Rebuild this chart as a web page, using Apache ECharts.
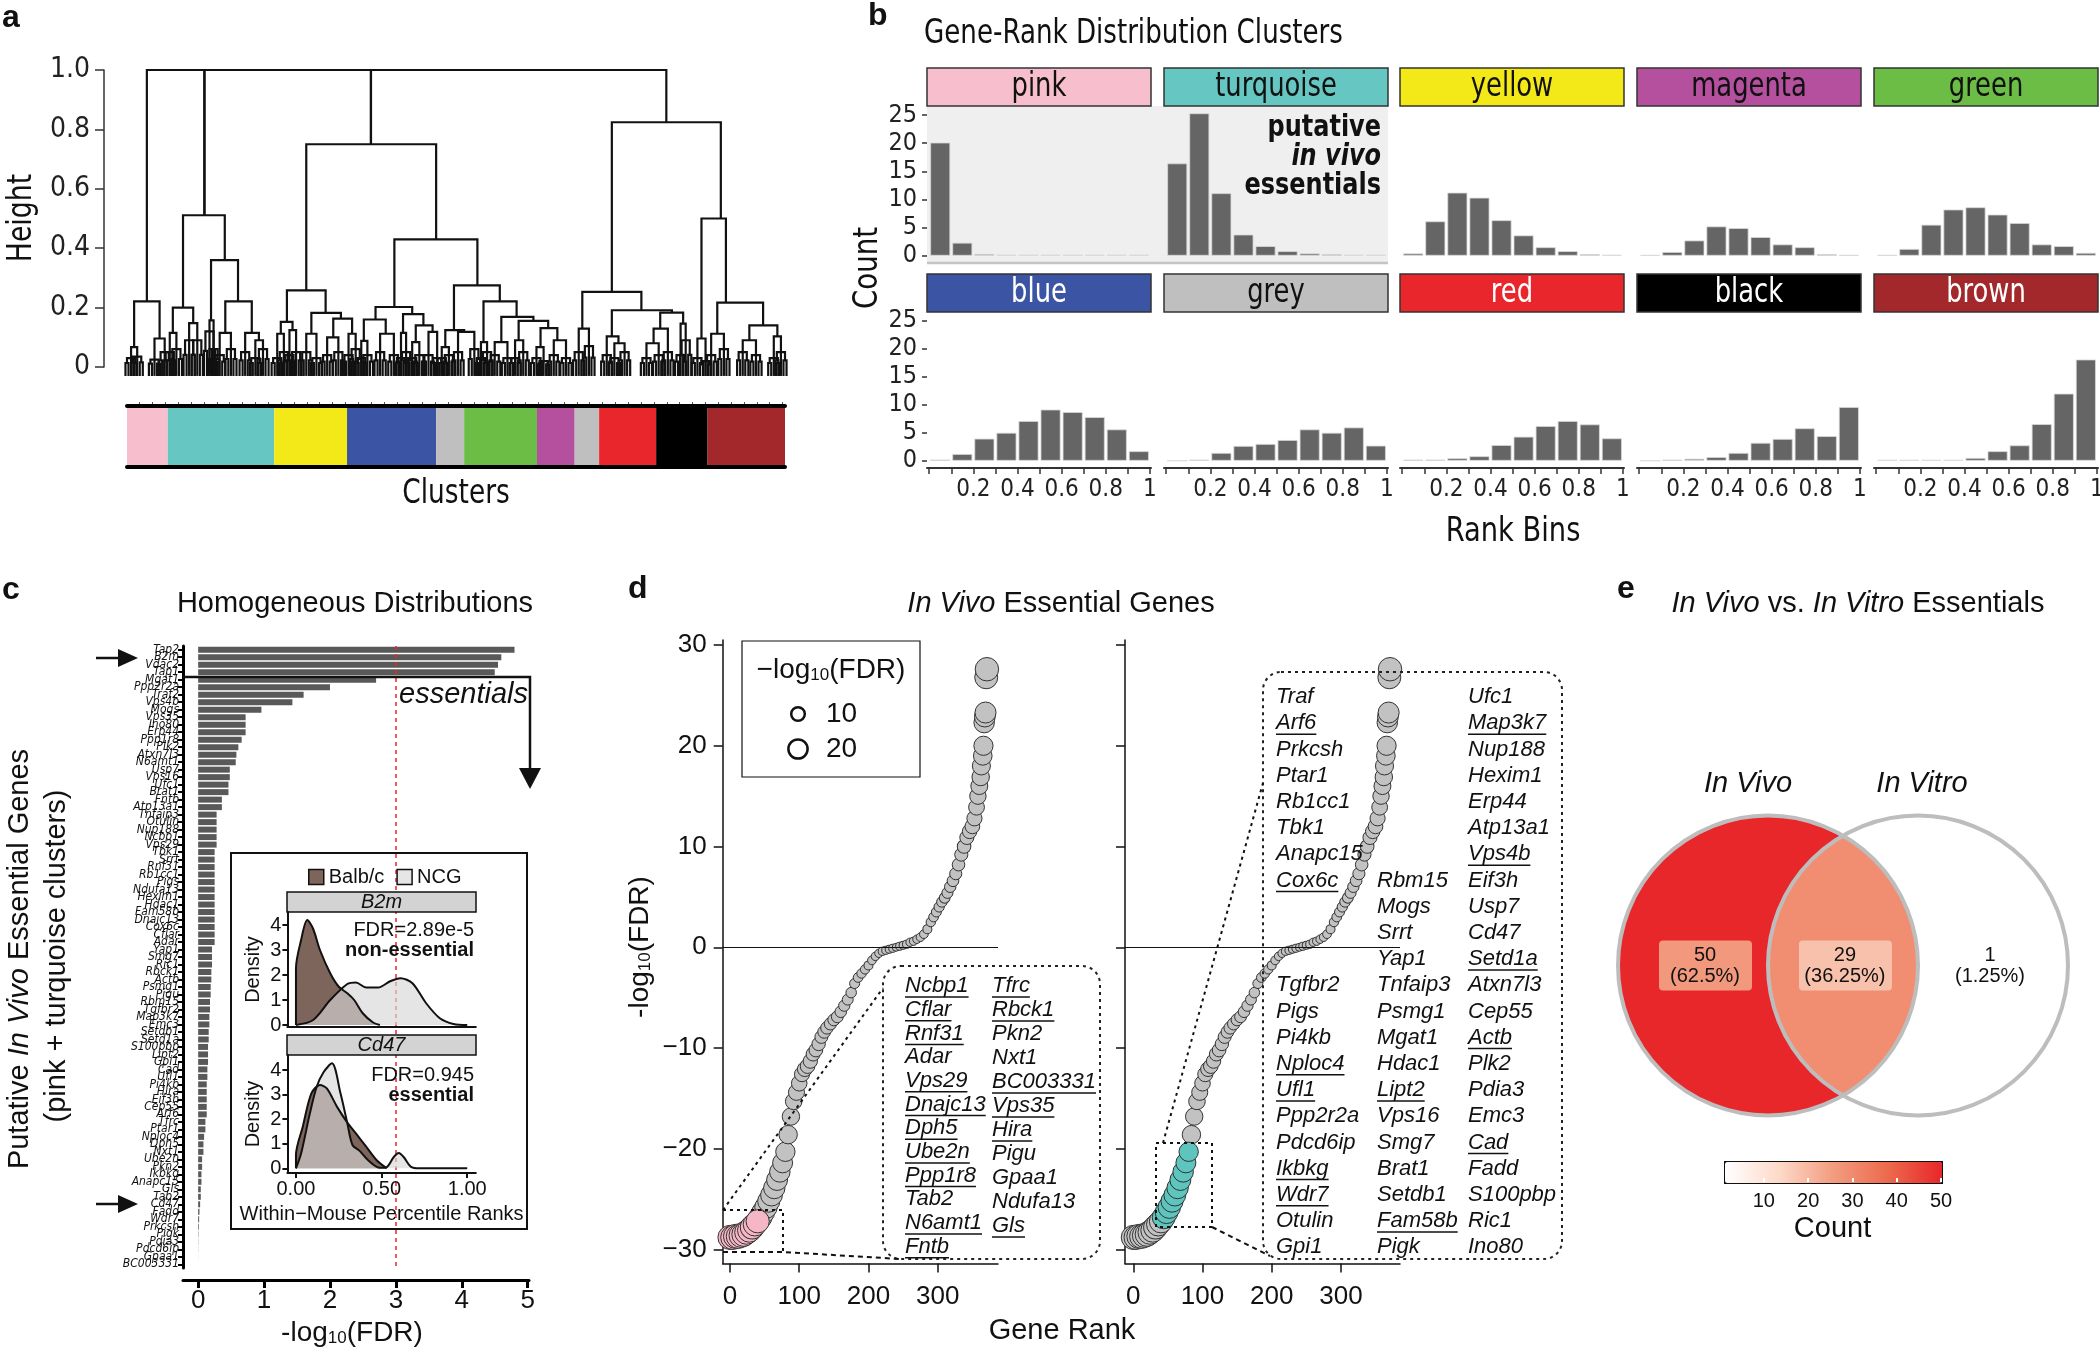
<!DOCTYPE html>
<html>
<head>
<meta charset="utf-8">
<title>Gene-rank figure</title>
<script src="https://cdn.jsdelivr.net/npm/echarts@6.0.0/dist/echarts.min.js"></script>
<style>
html,body{margin:0;padding:0;background:#ffffff;}
#chart{width:2100px;height:1353px;}
</style>
</head>
<body>
<div id="chart"></div>
<script>
// ===================== DATA =====================
// ---- Panel a: dendrogram of gene-rank distributions ----
const heightTicks = [0, 0.2, 0.4, 0.6, 0.8, 1.0];
// merges: [xLeft, xRight, height, heightLeftChild, heightRightChild]  (x = leaf order units)
const dendroMerges = [
  [287,400,1.0,0.221,0.511],[400,727,1.0,0.511,0.75],[727,1307,1.0,0.75,0.824],
  [262,312,0.221,0.067,0.096],[256,268,0.067,0.03,0.035],[302,322,0.096,0.025,0.05],
  [358,440,0.511,0.2,0.36],[338,378,0.2,0.115,0.148],[332,345,0.115,0.05,0.06],[370,386,0.148,0.09,0.09],
  [413,466,0.36,0.157,0.221],[410,418,0.157,0.12,0.06],[441,493,0.221,0.115,0.115],[430,452,0.115,0.04,0.06],
  [480,507,0.115,0.05,0.09],[500,515,0.09,0.03,0.06],
  [600,855,0.75,0.258,0.43],[562,638,0.258,0.152,0.182],[550,573,0.152,0.112,0.124],[543,556,0.112,0.03,0.05],
  [567,580,0.124,0.04,0.05],[610,668,0.182,0.112,0.163],[600,620,0.112,0.05,0.03],[653,690,0.163,0.1,0.112],
  [641,663,0.1,0.04,0.05],[683,697,0.112,0.04,0.06],
  [773,936,0.43,0.202,0.275],[736,808,0.202,0.16,0.178],[713,756,0.16,0.088,0.112],[708,720,0.088,0.03,0.04],
  [745,772,0.112,0.05,0.04],[790,830,0.178,0.115,0.14],[786,796,0.115,0.03,0.05],[815,848,0.14,0.084,0.118],
  [808,822,0.084,0.03,0.04],[840,857,0.118,0.04,0.03],
  [890,980,0.275,0.124,0.221],[873,910,0.124,0.067,0.118],[866,880,0.067,0.03,0.04],[898,930,0.118,0.05,0.06],
  [948,1013,0.221,0.084,0.169],[943,955,0.084,0.03,0.05],[983,1046,0.169,0.084,0.155],[970,995,0.084,0.04,0.03],
  [1017,1075,0.155,0.09,0.131],[1010,1026,0.09,0.03,0.05],[1060,1093,0.131,0.067,0.09],[1052,1066,0.067,0.03,0.02],
  [1086,1110,0.09,0.04,0.03],
  [1200,1414,0.824,0.253,0.5],[1142,1258,0.253,0.129,0.191],[1135,1155,0.129,0.05,0.07],[1200,1318,0.191,0.103,0.183],
  [1190,1213,0.103,0.04,0.08],[1205,1225,0.08,0.03,0.05],[1295,1340,0.183,0.129,0.146],[1282,1310,0.129,0.08,0.05],
  [1268,1292,0.08,0.03,0.04],[1335,1345,0.146,0.04,0.09],
  [1376,1424,0.5,0.096,0.217],[1368,1384,0.096,0.03,0.02],[1407,1497,0.217,0.112,0.14],[1395,1420,0.112,0.04,0.06],
  [1470,1525,0.14,0.09,0.103],[1457,1483,0.09,0.05,0.04],[1518,1532,0.103,0.03,0.05]
];
// leaf groups: [x, height]
const dendroLeafNodes = [
  [256,.03],[268,.035],[302,.025],[322,.05],[332,.05],[345,.06],[370,.09],[386,.09],[410,.12],[418,.06],
  [430,.04],[452,.06],[480,.05],[500,.03],[515,.06],[543,.03],[556,.05],[567,.04],[580,.05],[600,.05],
  [620,.03],[641,.04],[663,.05],[683,.04],[697,.06],[708,.03],[720,.04],[745,.05],[772,.04],[786,.03],
  [796,.05],[808,.03],[822,.04],[840,.04],[857,.03],[866,.03],[880,.04],[898,.05],[930,.06],[943,.03],
  [955,.05],[970,.04],[995,.03],[1010,.03],[1026,.05],[1052,.03],[1066,.02],[1086,.04],[1110,.03],[1135,.05],
  [1155,.07],[1190,.04],[1205,.03],[1225,.05],[1268,.03],[1292,.04],[1310,.05],[1335,.04],[1345,.09],[1368,.03],
  [1384,.02],[1395,.04],[1420,.06],[1457,.05],[1483,.04],[1518,.03],[1532,.05]
];
const dendroLeafTip = -0.03;
const clusterBandNames = ['pink','turquoise','yellow','blue','grey','green','magenta','grey','red','black','brown'];
const clusterBandSizes = [80, 209, 143, 175, 55, 143, 74, 48, 112, 101, 152];

// ---- Panel b: rank-bin histograms per cluster ----
const rankBinCenters = [0.05,0.15,0.25,0.35,0.45,0.55,0.65,0.75,0.85,0.95];
const rankBinTicks = [0,0.1,0.2,0.3,0.4,0.5,0.6,0.7,0.8,0.9,1];
const rankBinLabels = [0.2,0.4,0.6,0.8,1];
const countTicks = [0,5,10,15,20,25];
const countsPink      = [20.1, 2.3, 0.3, 0.15, 0.15, 0.15, 0.15, 0.15, 0.15, 0.15];
const countsTurquoise = [16.4, 25.3, 11.1, 3.75, 1.7, 0.8, 0.4, 0.25, 0.15, 0.15];
const countsYellow    = [0.4, 6.1, 11.2, 10.3, 6.3, 3.6, 1.5, 0.8, 0.25, 0.15];
const countsMagenta   = [0.1, 0.65, 2.7, 5.2, 4.9, 3.3, 2.0, 1.5, 0.25, 0.1];
const countsGreen     = [0.1, 1.2, 5.5, 8.2, 8.6, 7.3, 5.8, 2.0, 1.7, 0.5];
const countsBlue      = [0.2, 1.2, 3.95, 5.0, 7.1, 9.15, 8.7, 7.8, 5.6, 1.7];
const countsGrey      = [0, 0.2, 1.4, 2.65, 3.0, 3.7, 5.6, 5.0, 5.95, 2.7];
const countsRed       = [0.2, 0.2, 0.45, 0.8, 2.8, 4.3, 6.2, 7.1, 6.5, 4.0];
const countsBlack     = [0, 0.2, 0.35, 0.65, 1.4, 3.2, 3.9, 5.8, 4.4, 9.6];
const countsBrown     = [0.15, 0.15, 0.15, 0.15, 0.5, 1.7, 2.75, 6.55, 12.0, 18.1];
const facetNames = ['pink','turquoise','yellow','magenta','green','blue','grey','red','black','brown'];

// ---- Panel c: homogeneous distributions ----
const fdrTicks = [0,1,2,3,4,5];
const fdrThreshold = 3;
const geneNames = ['Tap2','B2m','Vdac2','Tap1','Mgat1','Ppp2r2a','Traf2','Vps4b','Mogs','Vps35','Ino80','Erp44','Ppp1r8','Plk2','Atxn7l3','N6amt1','Usp7','Vps16','Ufc1','Brat1','Fntb','Atp13a1','Tnfaip3','Otulin','Nup188','Ncbp1','Vps29','Tbk1','Srrt','Rnf31','Rb1cc1','Pigs','Ndufa13','Hexim1','Hdac1','Fam58b','Dnajc13','Cox6c','Cflar','Adar','Yap1','Smg7','Ric1','Rbck1','Actb','Psmg1','Pigu','Rbm15','Tgfbr2','Map3k7','Emc3','Setdb1','Setd1a','S100pbp','Lipt2','Gpi1','Cad','Ufl1','Pi4kb','Hira','Eif3h','Cep55','Arf6','Tfrc','Ptar1','Nploc4','Dph5','Nxt1','Ube2n','Pkn2','Ikbkg','Anapc15','Gls','Tab2','Cd47','Fadd','Wdr7','Prkcsh','Pigk','Pdia3','Pdcd6ip','Gpaa1','BC003331'];
const geneFDR = [4.8,4.6,4.55,4.5,2.7,2.0,1.6,1.43,0.96,0.72, 0.72,0.72,0.66,0.61,0.58,0.57,0.48,0.48,0.46,0.46, 0.36,0.36,0.28,0.28,0.28,0.28,0.28,0.25,0.25,0.25, 0.25,0.25,0.25,0.25,0.25,0.25,0.25,0.25,0.25,0.25, 0.21,0.21,0.21,0.2,0.2,0.19,0.19,0.18,0.18,0.17, 0.17,0.16,0.16,0.15,0.15,0.15,0.14,0.14,0.13,0.13, 0.13,0.13,0.13,0.11,0.11,0.09,0.08,0.08,0.06,0.06, 0.05,0.05,0.04,0.04,0.03,0.02,0.015,0.01,0.005,0.003, 0.002,0.001,0];
const densityTicks = [0,1,2,3,4];
const percentileTicks = [0,0.5,1];
const b2mBalbc  = [[0,0],[0,2.27],[0.03,3.4],[0.066,4.2],[0.1,3.85],[0.14,3.0],[0.2,2.07],[0.25,1.53],[0.3,1.27],[0.34,1.0],[0.39,0.47],[0.45,0.1],[0.49,0]];
const b2mNCG    = [[0,0],[0.1,0.2],[0.2,1.0],[0.3,1.64],[0.35,1.7],[0.41,1.5],[0.48,1.5],[0.55,1.75],[0.61,1.87],[0.68,1.67],[0.76,0.87],[0.84,0.27],[0.92,0.04],[1.0,0]];
const cd47Balbc = [[0,0],[0,0.54],[0.04,1.7],[0.09,3.05],[0.14,3.39],[0.18,3.25],[0.24,2.5],[0.3,1.86],[0.35,1.42],[0.41,0.88],[0.47,0.34],[0.53,0]];
const cd47NCG   = [[0,0],[0.03,0.6],[0.08,2.2],[0.12,3.3],[0.16,3.9],[0.21,4.27],[0.26,3.05],[0.3,1.83],[0.33,0.95],[0.37,0.72],[0.42,0.34],[0.49,0.02],[0.53,0.05],[0.57,0.45],[0.6,0.62],[0.63,0.45],[0.67,0.07],[0.72,0],[1.0,0]];

// ---- Panel d: in vivo essential genes (rank vs -log10 FDR) ----
const geneRank = [0,4,8,12,16,20,24,28,32,36,40,44,48,52,56,60,64,68,72,76,80,84,88,92,96,100,104,108,112,116,120,124,128,132,136,140,145,150,155,160,165,170,175,180,185,190,195,200,205,210,215,220,225,230,235,240,245,250,255,260,265,270,275,280,285,290,294,298,302,306,310,314,318,322,326,330,334,338,342,346,350,353,356,358,360,362,363,365,366,367,368,369,370,371];
const rankFDR = [-28.8,-28.8,-28.7,-28.7,-28.6,-28.5,-28.3,-28.1,-27.8,-27.5,-27.2,-26.8,-26.3,-25.8,-25.2,-24.6,-23.9,-23.1,-22.3,-21.4,-20.3,-18.6,-16.8,-15.3,-14.4,-13.5,-12.6,-12.1,-11.8,-11.3,-10.6,-10.2,-9.6,-8.9,-8.4,-8.0,-7.6,-7.2,-6.9,-6.4,-5.8,-5.2,-4.5,-3.6,-3.0,-2.6,-2.2,-1.8,-1.3,-0.9,-0.6,-0.4,-0.3,-0.2,-0.1,0.0,0.1,0.2,0.3,0.5,0.6,0.8,1.0,1.3,1.8,2.5,3.0,3.5,4.0,4.5,4.9,5.4,6.0,6.6,7.3,8.2,9.2,10.0,10.9,11.5,12.0,12.8,13.9,15.0,16.0,16.9,18.0,19.0,20.0,22.3,22.9,23.3,26.8,27.6];
const rankTicks = [0,100,200,300];
const fdrAxisTicks = [-30,-20,-10,0,10,20,30];
const pinkRankMax = 42;
const turquoiseRankRange = [44, 80];
const sizeLegendValues = [10, 20];
const listLeftA = ['Ncbp1','Cflar','Rnf31','Adar','Vps29','Dnajc13','Dph5','Ube2n','Ppp1r8','Tab2','N6amt1','Fntb'];
const listLeftB = ['Tfrc','Rbck1','Pkn2','Nxt1','BC003331','Vps35','Hira','Pigu','Gpaa1','Ndufa13','Gls'];
const listRightA1 = ['Traf','Arf6','Prkcsh','Ptar1','Rb1cc1','Tbk1','Anapc15','Cox6c'];
const listRightA2 = ['Tgfbr2','Pigs','Pi4kb','Nploc4','Ufl1','Ppp2r2a','Pdcd6ip','Ikbkg','Wdr7','Otulin','Gpi1'];
const listRightB = ['Rbm15','Mogs','Srrt','Yap1','Tnfaip3','Psmg1','Mgat1','Hdac1','Lipt2','Vps16','Smg7','Brat1','Setdb1','Fam58b','Pigk'];
const listRightC = ['Ufc1','Map3k7','Nup188','Hexim1','Erp44','Atp13a1','Vps4b','Eif3h','Usp7','Cd47','Setd1a','Atxn7l3','Cep55','Actb','Plk2','Pdia3','Emc3','Cad','Fadd','S100pbp','Ric1','Ino80'];
const underlinedGenes = ['Ncbp1','Cflar','Rnf31','Vps29','Dnajc13','Dph5','Ube2n','Ppp1r8','N6amt1','Fntb','Tfrc','Rbck1','BC003331','Vps35','Hira','Gls','Arf6','Cox6c','Nploc4','Ufl1','Ikbkg','Wdr7','Lipt2','Fam58b','Map3k7','Vps4b','Setd1a','Actb','Cad'];

// ---- Panel e: Venn ----
const vennSetNames = ['In Vivo','In Vitro'];
const vennCounts = [50, 29, 1];             // In Vivo only, shared, In Vitro only
const vennPercents = ['62.5%','36.25%','1.25%'];
const countScaleTicks = [10,20,30,40,50];

// ===================== STYLE / LAYOUT =====================
const SANS = "'Liberation Sans', Arial, Helvetica, sans-serif";
const NARROW = "'Liberation Sans Narrow', 'Arial Narrow', 'DejaVu Sans Condensed', sans-serif";
const clusterColor = {pink:'#f7bfcd', turquoise:'#65c6c2', yellow:'#f4e918', blue:'#3b55a4', grey:'#bfbfbf', green:'#6cbd46', magenta:'#b5509f', red:'#e9262b', black:'#000000', brown:'#a3282b'};
const stripInk = {pink:'#111', turquoise:'#111', yellow:'#111', magenta:'#111', green:'#111', blue:'#fff', grey:'#111', red:'#fff', black:'#fff', brown:'#fff'};

const grids=[], xAxes=[], yAxes=[], series=[], graphics=[];
function G(g){ grids.push(Object.assign({outerBoundsMode:'none', containLabel:false, show:false}, g)); return grids.length-1; }
function X(a){ xAxes.push(a); return xAxes.length-1; }
function Y(a){ yAxes.push(a); return yAxes.length-1; }
function txt(x, y, text, o){
  o = o || {};
  graphics.push({type:'text', x:x, y:y, rotation:o.rotation||0, scaleX:o.sx||1, z:o.z!=null?o.z:10, silent:true,
    style:{text:text, fill:o.color||'#111', fontSize:o.size||20, fontFamily:o.family||SANS,
      fontWeight:o.weight||'normal', fontStyle:o.style||'normal',
      textAlign:o.align||'left', textVerticalAlign:o.valign||'middle', rich:o.rich}});
}
function pline(points, o){
  o = o || {};
  graphics.push({type:'polyline', silent:true, z:o.z!=null?o.z:10, shape:{points:points},
    style:{stroke:o.color||'#111', lineWidth:o.width||1.5, lineDash:o.dash||null, fill:'none'}});
}
function poly(points, color, z){ graphics.push({type:'polygon', silent:true, z:z!=null?z:10, shape:{points:points}, style:{fill:color||'#111'}}); }
function rect(x, y, w, h, o){
  graphics.push({type:'rect', silent:true, z:o.z!=null?o.z:5, shape:{x:x, y:y, width:w, height:h, r:o.r||0},
    style:{fill:o.fill||'none', stroke:o.stroke||'none', lineWidth:o.lw||1, lineDash:o.dash||null}});
}
const mctx = document.createElement('canvas').getContext('2d');
function textW(t, font){ mctx.font = font; return mctx.measureText(t).width; }

// ===================== PANEL a =====================
txt(2, 18, 'a', {size:32, weight:'bold'});
const gA = G({left:127, top:70, width:658, height:297});
const xA = X({gridIndex:gA, type:'value', min:248, max:1540, show:false});
const yA = Y({gridIndex:gA, type:'value', min:0, max:1, interval:0.2, offset:23,
  axisLine:{show:true, onZero:false, lineStyle:{color:'#333', width:1.5}},
  axisTick:{show:true, length:9, lineStyle:{color:'#333', width:1.5}},
  axisLabel:{fontSize:28, fontFamily:NARROW, color:'#222', margin:14, formatter:function(v){ return v===0?'0':v.toFixed(1); }},
  splitLine:{show:false}});
const dendroLines = dendroMerges.map(function(m){ return {coords:[[m[0],m[3]],[m[0],m[2]],[m[1],m[2]],[m[1],m[4]]]}; });
// each leaf group is drawn as a small two-level comb of leaves
dendroLeafNodes.forEach(function(n){
  const x = n[0], h = n[1], h2 = h*0.45, t = dendroLeafTip;
  dendroLines.push({coords:[[x-8,h2],[x-8,h],[x+8,h],[x+8,h2]]});
  dendroLines.push({coords:[[x-11,t],[x-11,h2],[x-5,h2],[x-5,t]]});
  dendroLines.push({coords:[[x+5,t],[x+5,h2],[x+11,h2],[x+11,t]]});
  dendroLines.push({coords:[[x,h],[x,t]]});
});
series.push({type:'lines', coordinateSystem:'cartesian2d', xAxisIndex:xA, yAxisIndex:yA, polyline:true, silent:true, clip:false,
  lineStyle:{color:'#111', width:2.2, opacity:1}, data:dendroLines});
txt(22, 218, 'Height', {size:33, family:NARROW, align:'center', rotation:Math.PI/2, sx:0.9});

// leaf tick marks
const gT = G({left:139.7, top:383, width:642.8, height:19});
X({gridIndex:gT, type:'value', min:0, max:50, interval:1, position:'top',
  axisLine:{show:false}, axisTick:{show:true, inside:true, length:19, lineStyle:{color:'#555', width:1}},
  axisLabel:{show:false}, splitLine:{show:false}});
Y({gridIndex:gT, type:'value', min:0, max:1, show:false});

// colour band
const gBand = G({left:127, top:406, width:658, height:61});
const bandTotal = clusterBandSizes.reduce(function(a,b){return a+b;},0);
const xBand = X({gridIndex:gBand, type:'value', min:0, max:bandTotal, position:'bottom', z:5,
  axisLine:{show:true, onZero:false, lineStyle:{color:'#000', width:4}}, axisTick:{show:false}, axisLabel:{show:false}, splitLine:{show:false}});
X({gridIndex:gBand, type:'value', min:0, max:bandTotal, position:'top', z:5,
  axisLine:{show:true, onZero:false, lineStyle:{color:'#000', width:4}}, axisTick:{show:false}, axisLabel:{show:false}, splitLine:{show:false}});
const yBand = Y({gridIndex:gBand, type:'value', min:0, max:1, show:false});
const bandStarts = []; (function(){ let acc=0; clusterBandSizes.forEach(function(s){ bandStarts.push(acc); acc+=s; }); })();
series.push({type:'custom', xAxisIndex:xBand, yAxisIndex:yBand, silent:true,
  data: clusterBandSizes.map(function(s,i){ return [bandStarts[i], bandStarts[i]+s, i]; }),
  encode:{x:[0,1]},
  renderItem:function(p, api){
    const a = api.coord([api.value(0),1]), b = api.coord([api.value(1),0]);
    return {type:'rect', shape:{x:a[0], y:a[1], width:b[0]-a[0], height:b[1]-a[1]}, style:{fill:clusterColor[clusterBandNames[api.value(2)]]}};
  }});
txt(456, 494, 'Clusters', {size:33, family:NARROW, align:'center', sx:0.89});

// ===================== PANEL b =====================
txt(868, 16, 'b', {size:32, weight:'bold'});
txt(924, 34, 'Gene-Rank Distribution Clusters', {size:33, family:NARROW, sx:0.88});
const facetCounts = [countsPink, countsTurquoise, countsYellow, countsMagenta, countsGreen, countsBlue, countsGrey, countsRed, countsBlack, countsBrown];
const colLeft = [927,1164,1400,1637,1874], panelW = 224;
const rowPanelTop = [106,312], rowPanelH = [157,156], rowStripTop = [68,274];
rect(927, 106, 461, 157, {fill:'#efefef', z:-1});
pline([[927,263],[1388,263]], {color:'#c4c4c4', width:2.5, z:1});
facetNames.forEach(function(nm, i){
  const row = i<5?0:1, col = i%5;
  const g = G({left:colLeft[col], top:rowPanelTop[row], width:panelW, height:rowPanelH[row]});
  const xi = X({gridIndex:g, type:'value', min:-0.01, max:1.005, show:row===1,
    axisLine:{show:true, onZero:false, lineStyle:{color:'#333', width:2}},
    axisTick:{show:true, customValues:rankBinTicks, length:6, lineStyle:{color:'#333', width:1.5}},
    axisLabel:{show:true, customValues:rankBinLabels, formatter:function(v){ return Math.abs(v-1)<1e-9?'1':v.toFixed(1); }, fontSize:24, fontFamily:NARROW, color:'#222', margin:10},
    splitLine:{show:false}});
  const yi = Y({gridIndex:g, type:'value', min:-1.3, max:26.6, show:col===0,
    axisLine:{show:false, onZero:false},
    axisTick:{show:true, customValues:countTicks, length:5, lineStyle:{color:'#333', width:1.5}},
    axisLabel:{customValues:countTicks, fontSize:25, fontFamily:NARROW, color:'#222', margin:10},
    splitLine:{show:false}});
  series.push({type:'bar', xAxisIndex:xi, yAxisIndex:yi, silent:true, barWidth:20,
    data: rankBinCenters.map(function(b,j){ return [b, facetCounts[i][j]]; }),
    itemStyle:{color:'#656565', borderColor:'#d8d8d8', borderWidth:0.8}});
  rect(colLeft[col], rowStripTop[row], panelW, 38, {fill:clusterColor[nm], stroke:'#333', lw:1.5, z:3});
  txt(colLeft[col]+panelW/2, rowStripTop[row]+19, nm, {size:33, family:NARROW, color:stripInk[nm], align:'center', sx:0.87});
});
txt(1381, 128, 'putative', {size:31, family:NARROW, weight:'bold', align:'right', sx:0.86});
txt(1381, 157, 'in vivo', {size:31, family:NARROW, weight:'bold', style:'italic', align:'right', sx:0.86});
txt(1381, 186, 'essentials', {size:31, family:NARROW, weight:'bold', align:'right', sx:0.86});
txt(868, 268, 'Count', {size:33, family:NARROW, align:'center', rotation:Math.PI/2, sx:0.93});
txt(1513, 532, 'Rank Bins', {size:33, family:NARROW, align:'center', sx:0.92});

// ===================== PANEL c =====================
txt(2, 590, 'c', {size:32, weight:'bold'});
txt(355, 604, 'Homogeneous Distributions', {size:29, align:'center'});
txt(20, 959, 'Putative {i|In Vivo} Essential Genes', {size:29, align:'center', rotation:Math.PI/2,
  rich:{i:{fontStyle:'italic', fontSize:29, fontFamily:SANS}}});
txt(57, 956, '(pink + turquoise clusters)', {size:29, align:'center', rotation:Math.PI/2});
const gC = G({left:183, top:646, width:346, height:622});
const xC = X({gridIndex:gC, type:'value', min:-0.23, max:5.02, offset:12,
  axisLine:{show:true, onZero:false, lineStyle:{color:'#000', width:3}},
  axisTick:{show:true, customValues:fdrTicks, length:8, lineStyle:{color:'#000', width:3}},
  axisLabel:{customValues:fdrTicks, fontSize:26, color:'#111', margin:8},
  splitLine:{show:false}});
const yC = Y({gridIndex:gC, type:'category', data:geneNames, inverse:true,
  axisLine:{show:true, onZero:false, lineStyle:{color:'#000', width:3}},
  axisTick:{show:true, alignWithLabel:true, length:5, lineStyle:{color:'#000', width:2}},
  axisLabel:{interval:0, fontSize:12, fontStyle:'italic', fontFamily:NARROW, color:'#111', margin:4},
  splitLine:{show:false}});
series.push({type:'bar', xAxisIndex:xC, yAxisIndex:yC, silent:true, barWidth:6, data:geneFDR,
  itemStyle:{color:'#595959'},
  markLine:{silent:true, symbol:'none', label:{show:false}, lineStyle:{color:'#e8262b', type:[4,4], width:1.5}, data:[{xAxis:fdrThreshold}]}});
txt(352, 1333, '-log{s|10}(FDR)', {size:28, align:'center', rich:{s:{fontSize:17, verticalAlign:'bottom', fontFamily:SANS}}});
// arrows & separator
pline([[96,658],[120,658]], {width:2.5});
poly([[138,658],[118,649],[118,667]]);
pline([[96,1204],[120,1204]], {width:2.5});
poly([[138,1204],[118,1195],[118,1213]]);
pline([[183,677],[530,677],[530,770]], {width:2.5});
poly([[530,789],[519,768],[541,768]]);
txt(399, 695, 'essentials', {size:29, style:'italic'});

// inset
rect(231, 853, 296, 376, {fill:'#ffffff', stroke:'#111', lw:2, z:5});
function densAxes(top, height, ymin, ymax, bottomLabels){
  const g = G({left:287.4, top:top, width:188.4, height:height});
  const xi = X({gridIndex:g, type:'value', min:-0.05, max:1.05, z:7,
    axisLine:{show:true, onZero:false, lineStyle:{color:'#111', width:2}},
    axisTick:{show:bottomLabels, customValues:percentileTicks, length:5, lineStyle:{color:'#111', width:2}},
    axisLabel:{show:bottomLabels, customValues:percentileTicks, formatter:function(v){return v.toFixed(2);}, fontSize:20, color:'#111', margin:6},
    name: bottomLabels ? 'Within\u2212Mouse Percentile Ranks' : '', nameLocation:'middle', nameGap:31,
    nameTextStyle:{fontSize:20, color:'#111', fontFamily:SANS},
    splitLine:{show:false}});
  const yi = Y({gridIndex:g, type:'value', min:ymin, max:ymax, z:7,
    axisLine:{show:true, onZero:false, lineStyle:{color:'#111', width:2}},
    axisTick:{show:true, customValues:densityTicks, length:5, lineStyle:{color:'#111', width:2}},
    axisLabel:{customValues:densityTicks, fontSize:20, color:'#111', margin:6},
    name:'Density', nameLocation:'middle', nameGap:24, nameRotate:90,
    nameTextStyle:{fontSize:20, color:'#111', fontFamily:SANS},
    splitLine:{show:false}});
  return [xi, yi];
}
const c1 = densAxes(912, 115, -0.08, 4.52, false);
const c2 = densAxes(1055, 118, -0.19, 4.61, true);
function dens(ax, data, fill, name){
  series.push({type:'line', name:name, xAxisIndex:ax[0], yAxisIndex:ax[1], data:data, smooth:0.3, symbol:'none', z:6, silent:true,
    lineStyle:{color:'#111', width:2}, areaStyle:{color:fill, opacity:1}});
}
dens(c1, b2mBalbc, '#7e655c', 'Balb/c');
dens(c1, b2mNCG, 'rgba(215,215,215,0.65)', 'NCG');
dens(c2, cd47Balbc, '#7e655c', 'Balb/c');
dens(c2, cd47NCG, 'rgba(215,215,215,0.65)', 'NCG');
rect(287, 892, 189, 20, {fill:'#d3d3d3', stroke:'#111', lw:1.5, z:7});
txt(381.5, 902, 'B2m', {size:20, style:'italic', align:'center', z:8});
rect(287, 1035, 189, 20, {fill:'#d3d3d3', stroke:'#111', lw:1.5, z:7});
txt(381.5, 1045, 'Cd47', {size:20, style:'italic', align:'center', z:8});
txt(474, 930, 'FDR=2.89e-5', {size:20, align:'right', z:8});
txt(474, 950, 'non-essential', {size:20, weight:'bold', align:'right', z:8});
txt(474, 1075, 'FDR=0.945', {size:20, align:'right', z:8});
txt(474, 1095, 'essential', {size:20, weight:'bold', align:'right', z:8});

// ===================== PANEL d =====================
txt(628, 589, 'd', {size:32, weight:'bold'});
txt(1061, 604, '{i|In Vivo} Essential Genes', {size:29, align:'center', rich:{i:{fontStyle:'italic', fontSize:29, fontFamily:SANS}}});
function sizeFn(v){ return 8 + 0.56*Math.abs(v); }
function dPanel(left, width, minX, maxX, showY, isHighlighted, hiColor){
  const g = G({left:left, top:640, width:width, height:623.6});
  const xi = X({gridIndex:g, type:'value', min:minX, max:maxX,
    axisLine:{show:true, onZero:false, lineStyle:{color:'#111', width:1.5}},
    axisTick:{show:true, customValues:rankTicks, length:9, lineStyle:{color:'#111', width:1.5}},
    axisLabel:{customValues:rankTicks, fontSize:26, color:'#111', margin:20},
    splitLine:{show:false}});
  const yi = Y({gridIndex:g, type:'value', min:-31.4, max:30.5,
    axisLine:{show:true, onZero:false, lineStyle:{color:'#111', width:1.5}},
    axisTick:{show:true, customValues:fdrAxisTicks, length:9, lineStyle:{color:'#111', width:1.5}},
    axisLabel:{show:showY, customValues:fdrAxisTicks, fontSize:26, color:'#111', margin:16,
      formatter:function(v){ return v<0 ? '\u2212'+Math.abs(v) : String(v); }},
    splitLine:{show:false}});
  const pts = geneRank.map(function(r,i){ return [r, rankFDR[i]]; });
  const base = pts.filter(function(p){ return !isHighlighted(p[0]); });
  const hi = pts.filter(function(p){ return isHighlighted(p[0]); });
  series.push({type:'scatter', xAxisIndex:xi, yAxisIndex:yi, silent:true, clip:false, z:2,
    data: base, symbolSize:function(val){ return sizeFn(val[1]); },
    itemStyle:{color:'#c2c2c2', borderColor:'#333', borderWidth:1, opacity:1},
    markLine:{silent:true, symbol:'none', label:{show:false}, lineStyle:{color:'#111', type:'solid', width:1}, data:[{yAxis:0}]}});
  series.push({type:'scatter', xAxisIndex:xi, yAxisIndex:yi, silent:true, clip:false, z:3,
    data: hi, symbolSize:function(val){ return sizeFn(val[1]); },
    itemStyle:{color:hiColor, borderColor:'#333', borderWidth:1, opacity:1}});
}
dPanel(722.7, 275.3, -10.5, 387, true, function(r){ return r<=pinkRankMax; }, '#f5b6c5');
dPanel(1125, 275, -12, 385.4, false, function(r){ return r>=turquoiseRankRange[0] && r<=turquoiseRankRange[1]; }, '#5ec4be');
txt(640, 947, '-log{s|10}(FDR)', {size:28, align:'center', rotation:Math.PI/2, rich:{s:{fontSize:17, verticalAlign:'bottom', fontFamily:SANS}}});
txt(1062, 1331, 'Gene Rank', {size:29, align:'center'});
// size legend
rect(742, 641, 178, 136, {stroke:'#111', lw:1.2, z:6, fill:'#ffffff'});
txt(831, 670, '\u2212log{s|10}(FDR)', {size:28, align:'center', z:7, rich:{s:{fontSize:17, verticalAlign:'bottom', fontFamily:SANS}}});
sizeLegendValues.forEach(function(v, i){
  const cy = [714, 749][i];
  graphics.push({type:'circle', silent:true, z:7, shape:{cx:798, cy:cy, r:sizeFn(v)/2}, style:{fill:'none', stroke:'#111', lineWidth:2.5}});
  txt(826, cy, String(v), {size:28, z:7});
});
// gene lists
const listFont = "italic 22px 'Liberation Sans', Arial, sans-serif";
function geneList(names, x, y0, dy){
  names.forEach(function(n, i){
    const y = y0 + i*dy;
    txt(x, y, n, {size:22, style:'italic', z:9});
    if (underlinedGenes.indexOf(n) >= 0){
      const w = textW(n, listFont);
      pline([[x, y+11],[x+w, y+11]], {width:1.5, z:9});
    }
  });
}
geneList(listLeftA, 905, 986, 23.7);
geneList(listLeftB, 992, 986, 24);
geneList(listRightA1, 1276, 697, 26.2);
geneList(listRightA2, 1276, 697+11*26.2, 26.2);
geneList(listRightB, 1377, 697+7*26.2, 26.2);
geneList(listRightC, 1468, 697, 26.2);
// zoom boxes & connectors
const dot = [3,4];
rect(883, 966, 217, 293, {stroke:'#222', lw:2, dash:dot, r:18, z:8});
pline([[723,1210],[783,1210],[783,1252]], {dash:dot, width:2, z:8});
pline([[723,1252],[783,1252],[900,1259]], {dash:[5,4], width:2, z:8});
pline([[723,1210],[883,988]], {dash:dot, width:2, z:8});
rect(1263, 672, 299, 587, {stroke:'#222', lw:2, dash:dot, r:18, z:8});
pline([[1156,1143],[1212,1143],[1212,1227],[1156,1227],[1156,1143]], {dash:dot, width:2, z:8});
pline([[1163,1143],[1263,783]], {dash:dot, width:2, z:8});
pline([[1212,1227],[1270,1256]], {dash:[5,4], width:2, z:8});

// ===================== PANEL e =====================
txt(1617, 589, 'e', {size:32, weight:'bold'});
txt(1858, 604, '{i|In Vivo} vs. {i|In Vitro} Essentials', {size:29, align:'center', rich:{i:{fontStyle:'italic', fontSize:29, fontFamily:SANS}}});
txt(1748, 784, vennSetNames[0], {size:29, style:'italic', align:'center'});
txt(1922, 784, vennSetNames[1], {size:29, style:'italic', align:'center'});
const gE = G({left:1618, top:816, width:450, height:299});
const xE = X({gridIndex:gE, type:'value', min:-1.5, max:1.5, show:false});
const yE = Y({gridIndex:gE, type:'value', min:-1, max:1, show:false});
const vennDrawOrder = [2, 0, 1];
const vennLabelBox = ['#f2987c', '#f8c1ab', null];
const vennSeriesIndex = series.length;
series.push({type:'custom', xAxisIndex:xE, yAxisIndex:yE, silent:true, z:3,
  data: vennDrawOrder.map(function(k){ return {value:[0, 0, vennCounts[k]]}; }),
  renderItem:function(params, api){
    const k = vennDrawOrder[params.dataIndex];
    const fill = api.visual('color');
    const cA = api.coord([-0.5,0]), cB = api.coord([0.5,0]);
    const r = cB[0]-cA[0];
    const kids = [];
    function label(ux){
      const p = api.coord([ux,0]);
      if (vennLabelBox[k]) kids.push({type:'rect', shape:{x:p[0]-46, y:p[1]-25, width:93, height:50, r:4}, style:{fill:vennLabelBox[k]}});
      kids.push({type:'text', style:{text:vennCounts[k]+'\n('+vennPercents[k]+')', x:p[0], y:p[1],
        align:'center', verticalAlign:'middle', textAlign:'center', textVerticalAlign:'middle',
        fontSize:20, lineHeight:21, fontFamily:SANS, fill:'#111'}});
    }
    if (k===2){
      kids.push({type:'circle', shape:{cx:cB[0], cy:cB[1], r:r}, style:{fill:fill}});
      label(0.98);
    } else if (k===0){
      kids.push({type:'circle', shape:{cx:cA[0], cy:cA[1], r:r}, style:{fill:fill}});
      label(-0.92);
    } else {
      const t = api.coord([0, Math.sqrt(0.75)]), b = api.coord([0, -Math.sqrt(0.75)]);
      kids.push({type:'path', shape:{pathData:'M'+t[0]+' '+t[1]+' A'+r+' '+r+' 0 0 1 '+b[0]+' '+b[1]+' A'+r+' '+r+' 0 0 1 '+t[0]+' '+t[1]+' Z'}, style:{fill:fill}});
      kids.push({type:'circle', shape:{cx:cA[0], cy:cA[1], r:r}, style:{fill:'none', stroke:'#bdbdbd', lineWidth:4}});
      kids.push({type:'circle', shape:{cx:cB[0], cy:cB[1], r:r}, style:{fill:'none', stroke:'#bdbdbd', lineWidth:4}});
      label(0.013);
    }
    return {type:'group', children:kids};
  }});
// colour scale axis
const gCB = G({left:1724, top:1161, width:217, height:21});
X({gridIndex:gCB, type:'value', min:1, max:50, position:'bottom', z:10,
  axisLine:{show:false}, axisTick:{show:true, inside:true, customValues:countScaleTicks, length:4, lineStyle:{color:'#fff', width:2}},
  axisLabel:{customValues:countScaleTicks, fontSize:20, color:'#111', margin:9},
  name:'Count', nameLocation:'middle', nameGap:32, nameTextStyle:{fontSize:29, color:'#111', fontFamily:SANS},
  splitLine:{show:false}});
Y({gridIndex:gCB, type:'value', min:0, max:1, show:false});

// ===================== RENDER =====================
const chart = echarts.init(document.getElementById('chart'), null, {renderer:'canvas', width:2100, height:1353});
chart.setOption({
  animation:false,
  backgroundColor:'#ffffff',
  textStyle:{fontFamily:SANS},
  grid:grids, xAxis:xAxes, yAxis:yAxes, series:series,
  legend:[{left:303, top:862, z:8, icon:'rect', itemWidth:15, itemHeight:15, itemGap:12, selectedMode:false,
    textStyle:{fontSize:20, color:'#111', fontFamily:SANS},
    data:[{name:'Balb/c', itemStyle:{color:'#7e655c', borderColor:'#111', borderWidth:1.5}},
          {name:'NCG', itemStyle:{color:'#e6e6e6', borderColor:'#111', borderWidth:1.5}}]}],
  visualMap:[{type:'continuous', seriesIndex:[vennSeriesIndex], dimension:2, min:1, max:50,
    orient:'horizontal', left:1724, top:1161, itemWidth:21, itemHeight:217, calculable:false, hoverLink:false,
    padding:0, borderColor:'#111', borderWidth:2,
    inRange:{color:['#ffffff','#fdd9c9','#f39c7f','#ec6a4d','#e8272a']}}],
  graphic:{elements:graphics}
});
</script>
</body>
</html>
